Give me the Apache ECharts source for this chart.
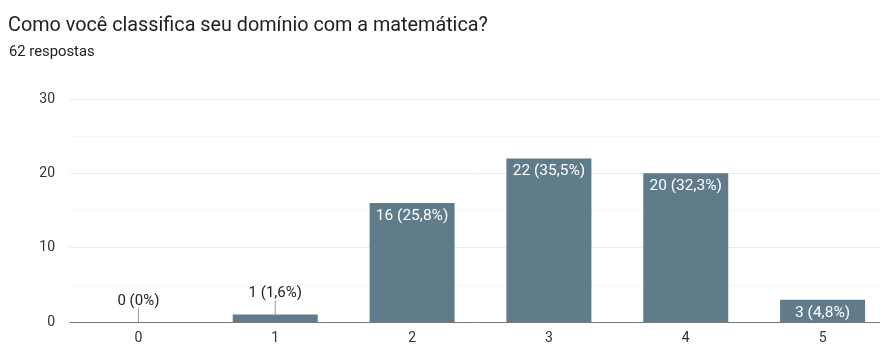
<!DOCTYPE html>
<html><head><meta charset="utf-8">
<script src="https://cdn.jsdelivr.net/npm/echarts@6/dist/echarts.min.js"></script>
<style>html,body{margin:0;padding:0;background:#fff}#c{width:880px;height:345px}</style>
</head><body><div id="c"></div>
<script>
const titleText = 'Como você classifica seu domínio com a matemática?';
const subtitleText = '62 respostas';
const categories = ['0', '1', '2', '3', '4', '5'];
const counts = [0, 1, 16, 22, 20, 3];
const yTicks = [0, 10, 20, 30];

const total = counts.reduce((a, b) => a + b, 0);
function labelFor(v) {
  const p = Math.round(v / total * 1000) / 10;
  const s = (p % 1 === 0 ? p.toFixed(0) : p.toFixed(1)).replace('.', ',');
  return v + ' (' + s + '%)';
}
const FONT = 'Roboto, "Noto Sans", Arial, sans-serif';
const small = v => v < 2;

const chart = echarts.init(document.getElementById('c'), null, {renderer: 'canvas'});
chart.setOption({
  animation: false,
  textStyle: {fontFamily: FONT},
  title: [
    {text: titleText, left: 8, top: 16, padding: 0, textStyle: {fontFamily: FONT, fontSize: 19.8, fontWeight: 'normal', color: '#202124'}},
    {text: subtitleText, left: 9, top: 45, padding: 0, textStyle: {fontFamily: FONT, fontSize: 14.8, fontWeight: 'normal', color: '#202124'}}
  ],
  grid: {left: 70, top: 99, width: 821, height: 223, outerBoundsMode: 'none', containLabel: false},
  xAxis: {
    type: 'category', data: categories,
    axisTick: {show: false},
    axisLine: {lineStyle: {color: '#777', width: 1}},
    axisLabel: {color: '#333', fontSize: 14, margin: 9, fontFamily: FONT}
  },
  yAxis: {
    type: 'value', min: yTicks[0], max: yTicks[yTicks.length - 1], interval: 10,
    axisLine: {show: false}, axisTick: {show: false},
    axisLabel: {color: '#333', fontSize: 14, margin: 15, fontFamily: FONT},
    splitLine: {lineStyle: {color: '#ebebeb', width: 1}},
    minorTick: {show: false, splitNumber: 2},
    minorSplitLine: {show: true, lineStyle: {color: '#f6f6f6', width: 1}}
  },
  series: [
    {
      type: 'bar', data: counts, barWidth: 85,
      itemStyle: {color: '#607b8a'},
      label: {
        show: true, position: 'insideTop', distance: 5, color: '#fff', fontSize: 15.5, fontFamily: FONT,
        formatter: p => small(p.value) ? '' : labelFor(p.value)
      }
    },
    {
      type: 'custom', data: counts.map((v, i) => [i, v]), z: 5,
      renderItem: function (params, api) {
        const v = api.value(1);
        if (!small(v)) return null;
        const pt = api.coord([api.value(0), v]);
        return {
          type: 'group',
          children: [
            {type: 'line', shape: {x1: pt[0], y1: pt[1], x2: pt[0], y2: pt[1] - 14}, style: {stroke: '#999', lineWidth: 1}},
            {type: 'text', style: {text: labelFor(v), x: pt[0], y: pt[1] - 21, align: 'center', verticalAlign: 'middle', fill: '#222', font: '15px ' + FONT}}
          ]
        };
      }
    }
  ]
});
</script></body></html>
